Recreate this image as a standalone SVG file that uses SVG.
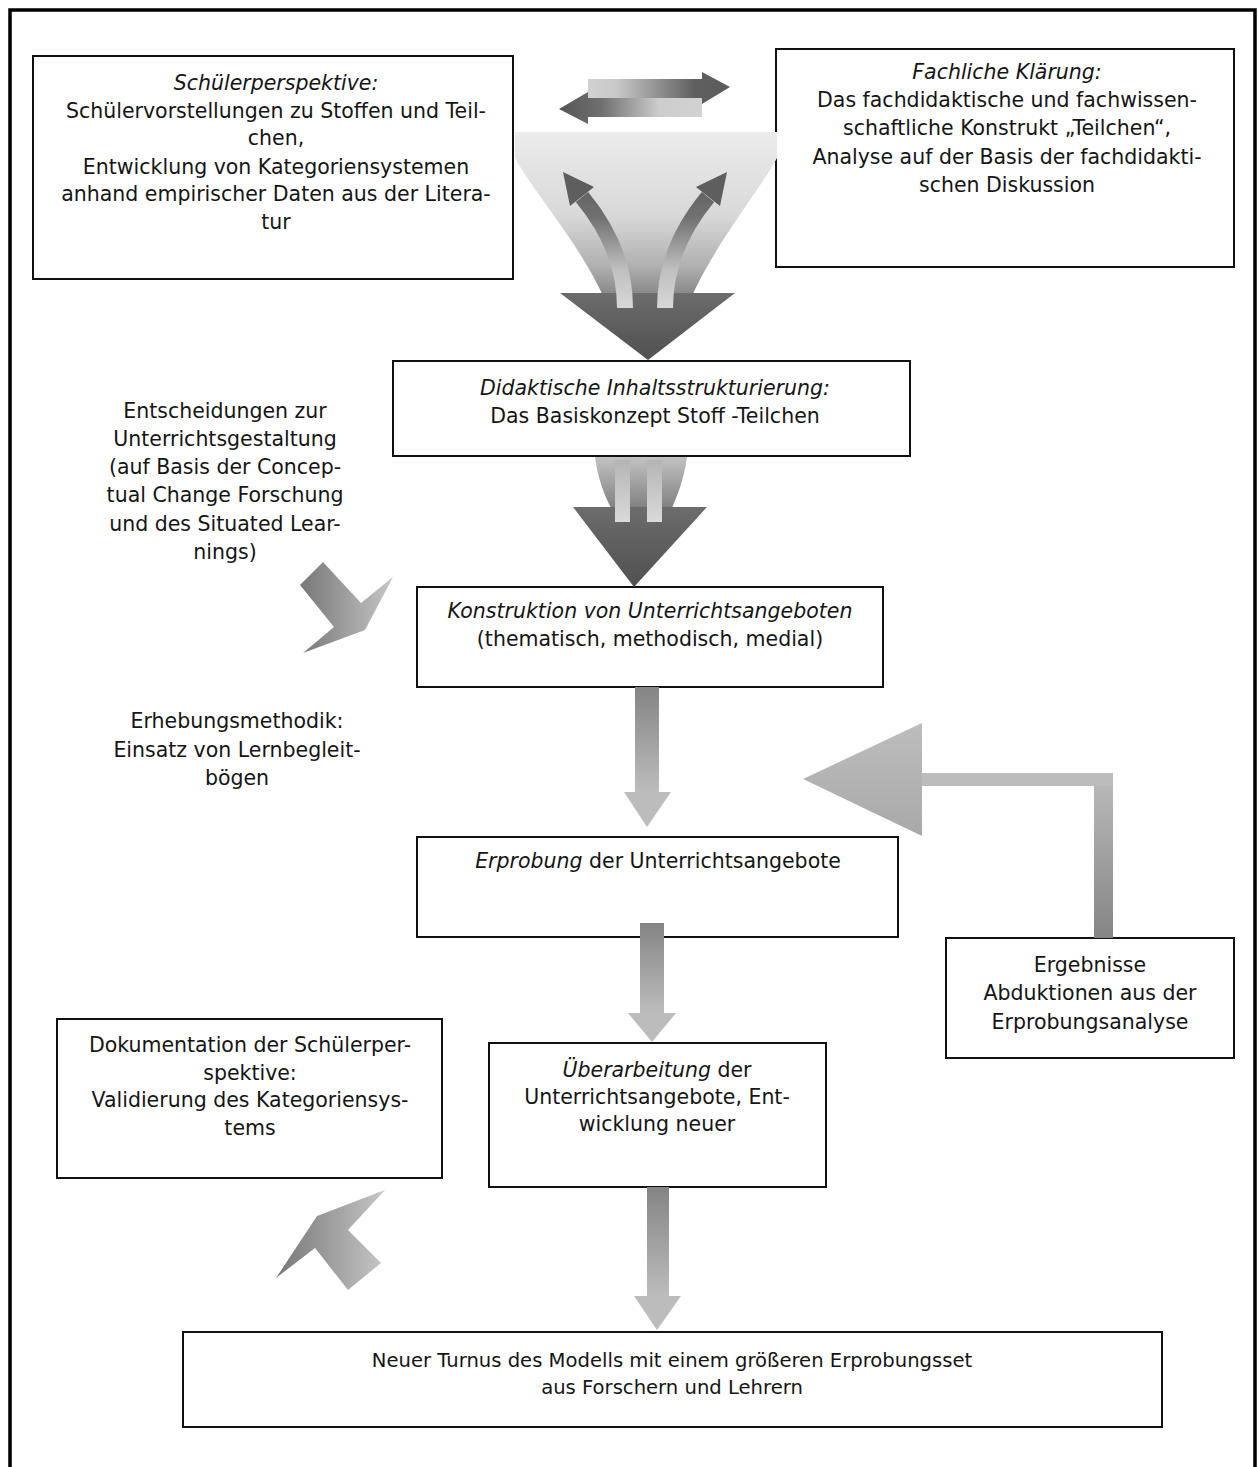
<svg xmlns="http://www.w3.org/2000/svg" width="1258" height="1467" viewBox="0 0 1258 1467">
  <style>
    .box { fill: #ffffff; stroke: #111111; stroke-width: 2; }
    .t { font-family: "DejaVu Sans", "Open Sans", sans-serif; font-size: 20.5px; fill: #151515; text-anchor: middle; }
    .i { font-style: italic; }
    .sm { font-size: 19.6px; }
    .frame { fill: none; stroke: #000000; stroke-width: 3.5; }
  </style>
  <defs>
    <linearGradient id="gStem" x1="0" y1="0" x2="0" y2="1">
      <stop offset="0" stop-color="#848484"/>
      <stop offset="1" stop-color="#bdbdbd"/>
    </linearGradient>
    <linearGradient id="gStemUp" x1="0" y1="1" x2="0" y2="0">
      <stop offset="0" stop-color="#858585"/>
      <stop offset="1" stop-color="#bcbcbc"/>
    </linearGradient>
    <linearGradient id="gHeadL" x1="0" y1="0" x2="0" y2="1">
      <stop offset="0" stop-color="#bdbdbd"/>
      <stop offset="1" stop-color="#a9a9a9"/>
    </linearGradient>
    <linearGradient id="gChev" x1="0" y1="0" x2="1" y2="0">
      <stop offset="0" stop-color="#777777"/>
      <stop offset="1" stop-color="#c6c6c6"/>
    </linearGradient>
    <linearGradient id="gDblR" gradientUnits="userSpaceOnUse" x1="588" y1="0" x2="730" y2="0">
      <stop offset="0" stop-color="#d2d2d2"/>
      <stop offset="0.2" stop-color="#c8c8c8"/>
      <stop offset="0.75" stop-color="#606060"/>
      <stop offset="1" stop-color="#5a5a5a"/>
    </linearGradient>
    <linearGradient id="gDblL" gradientUnits="userSpaceOnUse" x1="559" y1="0" x2="702" y2="0">
      <stop offset="0" stop-color="#555555"/>
      <stop offset="0.3" stop-color="#707070"/>
      <stop offset="0.7" stop-color="#cdcdcd"/>
      <stop offset="1" stop-color="#d2d2d2"/>
    </linearGradient>
    <linearGradient id="gFunnel" gradientUnits="userSpaceOnUse" x1="0" y1="132" x2="0" y2="300">
      <stop offset="0" stop-color="#ececec"/>
      <stop offset="0.5" stop-color="#d8d8d8"/>
      <stop offset="0.8" stop-color="#b0b0b0"/>
      <stop offset="1" stop-color="#808080"/>
    </linearGradient>
    <linearGradient id="gTri" x1="0" y1="0" x2="0" y2="1">
      <stop offset="0" stop-color="#6c6c6c"/>
      <stop offset="1" stop-color="#505050"/>
    </linearGradient>
    <linearGradient id="gCurve" gradientUnits="userSpaceOnUse" x1="0" y1="308" x2="0" y2="180">
      <stop offset="0" stop-color="#d8d8d8"/>
      <stop offset="0.3" stop-color="#bfbfbf"/>
      <stop offset="0.7" stop-color="#727272"/>
      <stop offset="1" stop-color="#5c5c5c"/>
    </linearGradient>
    <linearGradient id="gFunnel2" gradientUnits="userSpaceOnUse" x1="0" y1="457" x2="0" y2="510">
      <stop offset="0" stop-color="#c2c2c2"/>
      <stop offset="1" stop-color="#7e7e7e"/>
    </linearGradient>
    <linearGradient id="gStem2" gradientUnits="userSpaceOnUse" x1="0" y1="460" x2="0" y2="522">
      <stop offset="0" stop-color="#b4b4b4"/>
      <stop offset="1" stop-color="#dadada"/>
    </linearGradient>
  </defs>

  <rect width="1258" height="1467" fill="#ffffff"/>

  <!-- outer frame, open at the bottom -->
  <path class="frame" d="M10,1467 V10 H1255 V1467"/>

  <!-- boxes -->
  <g id="node-schuelerperspektive">
    <rect class="box" x="33" y="56" width="480" height="223"/>
    <text class="t i" x="276" y="90">Schülerperspektive:</text>
    <text class="t" x="276" y="118">Schülervorstellungen zu Stoffen und Teil-</text>
    <text class="t" x="276" y="145">chen,</text>
    <text class="t" x="276" y="174">Entwicklung von Kategoriensystemen</text>
    <text class="t" x="276" y="201">anhand empirischer Daten aus der Litera-</text>
    <text class="t" x="276" y="229">tur</text>
  </g>

  <g id="node-fachliche-klaerung">
    <rect class="box" x="776" y="49" width="458" height="218"/>
    <text class="t i" x="1007" y="79">Fachliche Klärung:</text>
    <text class="t" x="1007" y="107">Das fachdidaktische und fachwissen-</text>
    <text class="t" x="1007" y="135">schaftliche Konstrukt „Teilchen“,</text>
    <text class="t" x="1007" y="164">Analyse auf der Basis der fachdidakti-</text>
    <text class="t" x="1007" y="192">schen Diskussion</text>
  </g>

  <g id="node-inhaltsstrukturierung">
    <rect class="box" x="393" y="361" width="517" height="95"/>
    <text class="t i" x="655" y="395">Didaktische Inhaltsstrukturierung:</text>
    <text class="t" x="655" y="423">Das Basiskonzept Stoff -Teilchen</text>
  </g>

  <g id="note-entscheidungen">
    <text class="t" x="225" y="418">Entscheidungen zur</text>
    <text class="t" x="225" y="446">Unterrichtsgestaltung</text>
    <text class="t" x="225" y="474">(auf Basis der Concep-</text>
    <text class="t" x="225" y="502">tual Change Forschung</text>
    <text class="t" x="225" y="531">und des Situated Lear-</text>
    <text class="t" x="225" y="559">nings)</text>
  </g>

  <g id="node-konstruktion">
    <rect class="box" x="417" y="587" width="466" height="100"/>
    <text class="t i" x="650" y="618">Konstruktion von Unterrichtsangeboten</text>
    <text class="t" x="650" y="646">(thematisch, methodisch, medial)</text>
  </g>

  <g id="note-erhebungsmethodik">
    <text class="t" x="237" y="728">Erhebungsmethodik:</text>
    <text class="t" x="237" y="757">Einsatz von Lernbegleit-</text>
    <text class="t" x="237" y="785">bögen</text>
  </g>

  <g id="node-erprobung">
    <rect class="box" x="417" y="837" width="481" height="100"/>
    <text class="t" x="658" y="868"><tspan class="i">Erprobung</tspan> der Unterrichtsangebote</text>
  </g>

  <g id="node-ergebnisse">
    <rect class="box" x="946" y="938" width="288" height="120"/>
    <text class="t" x="1090" y="972">Ergebnisse</text>
    <text class="t" x="1090" y="1000">Abduktionen aus der</text>
    <text class="t" x="1090" y="1029">Erprobungsanalyse</text>
  </g>

  <g id="node-dokumentation">
    <rect class="box" x="57" y="1019" width="385" height="159"/>
    <text class="t" x="250" y="1052">Dokumentation der Schülerper-</text>
    <text class="t" x="250" y="1080">spektive:</text>
    <text class="t" x="250" y="1107">Validierung des Kategoriensys-</text>
    <text class="t" x="250" y="1135">tems</text>
  </g>

  <g id="node-ueberarbeitung">
    <rect class="box" x="489" y="1043" width="337" height="144"/>
    <text class="t" x="657" y="1077"><tspan class="i">Überarbeitung</tspan> der</text>
    <text class="t" x="657" y="1104">Unterrichtsangebote, Ent-</text>
    <text class="t" x="657" y="1131">wicklung neuer</text>
  </g>

  <g id="node-neuer-turnus">
    <rect class="box" x="183" y="1332" width="979" height="95"/>
    <text class="t sm" x="672" y="1367">Neuer Turnus des Modells mit einem größeren Erprobungsset</text>
    <text class="t sm" x="672" y="1394">aus Forschern und Lehrern</text>
  </g>

  <!-- connectors -->
  <g id="connectors">
    <!-- exchange between the two perspectives -->
    <polygon fill="url(#gDblR)" points="588,79 702,79 702,72 730,87 702,104 702,98 588,98"/>
    <polygon fill="url(#gDblL)" points="702,98 702,117 588,117 588,124 559,109 588,92 588,98"/>

    <!-- funnel into the content structuring -->
    <path fill="url(#gFunnel)" d="M515,132 L777,132 L777,158 C760,190 716,242 690,300 L605,300 C579,242 532,190 515,158 Z"/>
    <polygon fill="url(#gTri)" points="560,293 735,293 648,360"/>
    <path fill="none" stroke="url(#gCurve)" stroke-width="16" d="M625,308 C625,262 606,226 582,197"/>
    <polygon fill="#5e5e5e" points="563,172 594,187 570,206"/>
    <path fill="none" stroke="url(#gCurve)" stroke-width="16" d="M665,308 C665,262 684,226 708,197"/>
    <polygon fill="#5e5e5e" points="727,172 696,187 720,206"/>

    <!-- funnel into the construction of lessons -->
    <path fill="url(#gFunnel2)" d="M595,457 L687,457 C684,480 677,496 672,508 L611,508 C605,496 598,480 595,457 Z"/>
    <polygon fill="url(#gTri)" points="573,507 707,507 634,587"/>
    <rect x="615" y="460" width="15" height="62" fill="url(#gStem2)"/>
    <rect x="647" y="460" width="15" height="62" fill="url(#gStem2)"/>

    <!-- decisions on lesson design -->
    <polygon fill="url(#gChev)" points="323,562 361,603 393,577 365,630 303,653 334,627 300,585"/>

    <!-- construction to trial -->
    <rect x="635" y="687" width="24" height="106" fill="url(#gStem)"/>
    <polygon fill="#bcbcbc" points="624,792 671,792 647,827"/>

    <!-- results back to trial -->
    <rect x="1094" y="773" width="19" height="165" fill="url(#gStemUp)"/>
    <rect x="921" y="773" width="192" height="13" fill="#bcbcbc"/>
    <polygon fill="url(#gHeadL)" points="803,779 922,723 922,836"/>

    <!-- trial to revision -->
    <rect x="640" y="923" width="24" height="91" fill="url(#gStem)"/>
    <polygon fill="#bcbcbc" points="628,1013 676,1013 652,1042"/>

    <!-- revision to documentation -->
    <polygon fill="url(#gChev)" points="385,1190 317,1216 276,1278 315,1248 348,1290 381,1263 348,1230"/>

    <!-- revision to the new cycle -->
    <rect x="647" y="1187" width="22" height="110" fill="url(#gStem)"/>
    <polygon fill="#bcbcbc" points="634,1296 681,1296 657,1330"/>
  </g>
</svg>
